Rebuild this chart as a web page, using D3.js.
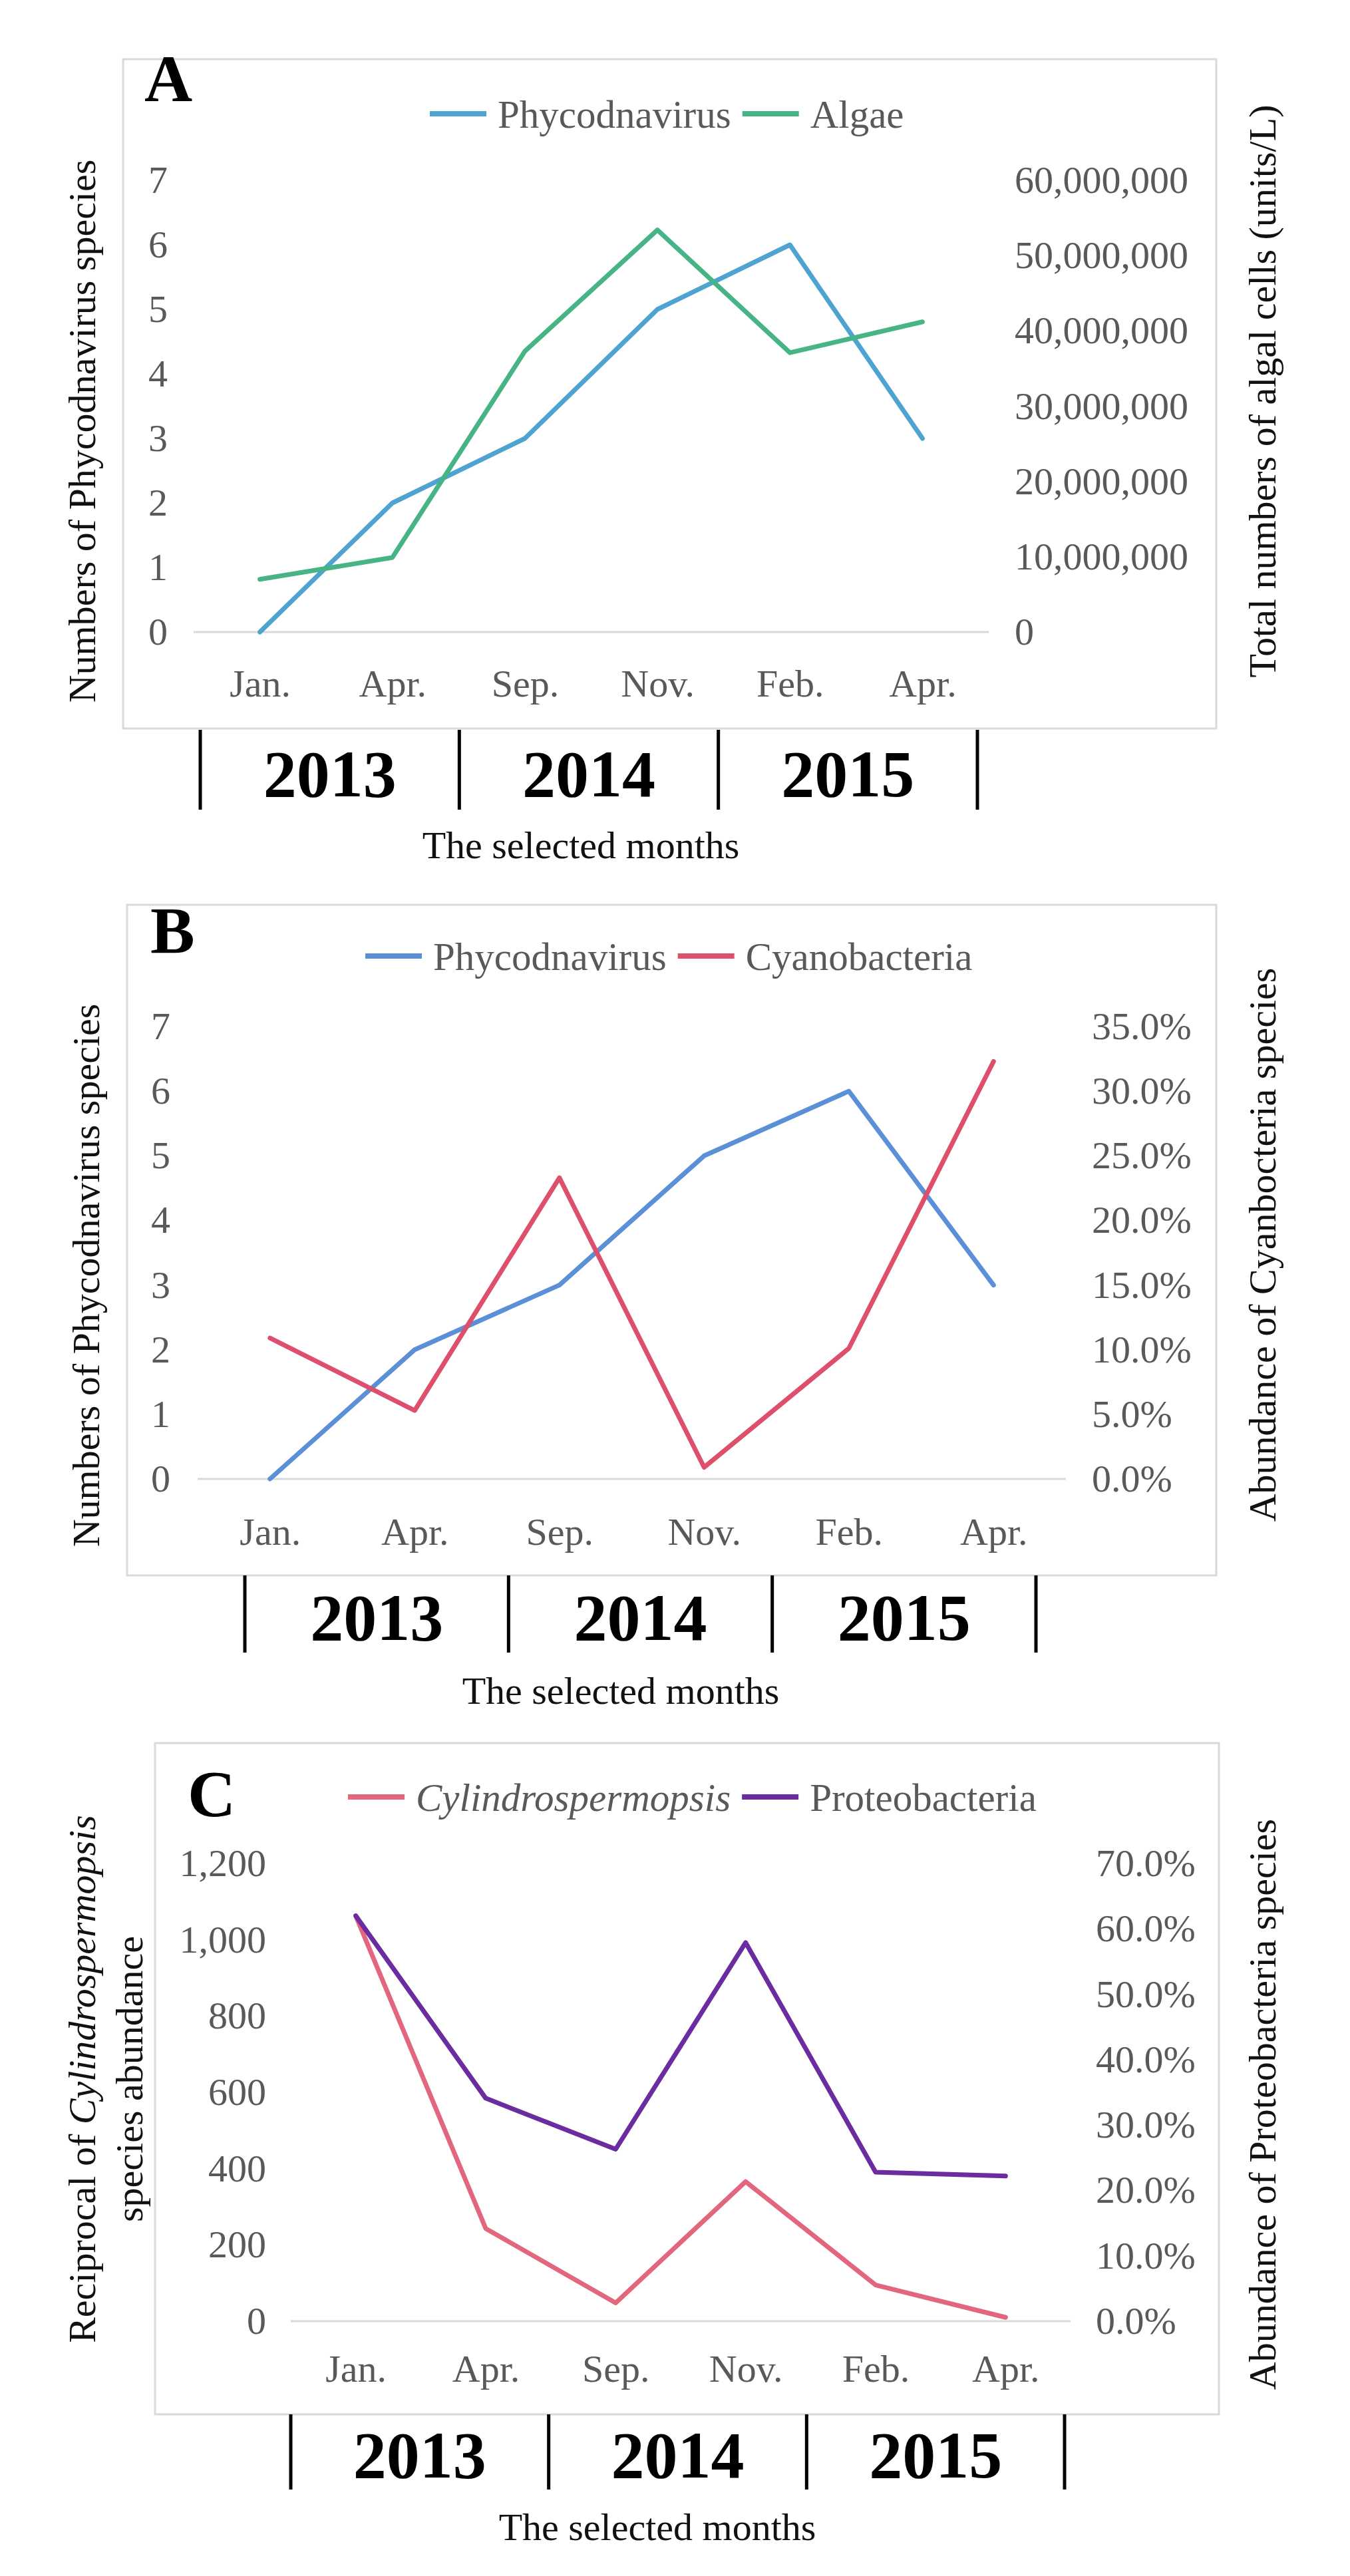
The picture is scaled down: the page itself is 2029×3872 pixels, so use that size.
<!DOCTYPE html>
<html>
<head>
<meta charset="utf-8">
<script src="https://cdn.jsdelivr.net/npm/d3@7"></script>
<style>
  html, body { margin: 0; padding: 0; background: #fff; }
</style>
</head>
<body>
<div id="chart"></div>
<script>
// data
const months = ['Jan.', 'Apr.', 'Sep.', 'Nov.', 'Feb.', 'Apr.'];
const years = ['2013', '2014', '2015'];

const phycodnavirus = [0, 2, 3, 5, 6, 3];
const algae = [7.0e6, 9.9e6, 37.3e6, 53.4e6, 37.1e6, 41.2e6];
const cyanobacteria = [0.109, 0.053, 0.233, 0.009, 0.101, 0.323];
const cylindro = [1063, 243, 48, 366, 95, 10];
const proteobacteria = [0.620, 0.341, 0.263, 0.579, 0.228, 0.222];

const phycoTicks = [0, 1, 2, 3, 4, 5, 6, 7];
const algaeTicks = [0, 10e6, 20e6, 30e6, 40e6, 50e6, 60e6];
const cyanoTicks = [0, 0.05, 0.10, 0.15, 0.20, 0.25, 0.30, 0.35];
const cylindroTicks = [0, 200, 400, 600, 800, 1000, 1200];
const proteoTicks = [0, 0.1, 0.2, 0.3, 0.4, 0.5, 0.6, 0.7];

const FONT = '"Liberation Serif", "Times New Roman", serif';
const W = 2029, H = 3872;

const svg = d3.select('#chart').append('svg')
  .attr('width', W)
  .attr('height', H)
  .style('font-family', FONT);

const panels = [
  {
    letter: 'A', letterX: 217, letterY: 152,
    box: [185, 89, 1828, 1095],
    plotX: [291, 1486], y0: 950, yTop: 271,
    left: { domain: [0, 7], ticks: phycoTicks, fmt: d3.format('d'), x: 252 },
    right: { domain: [0, 60e6], ticks: algaeTicks, fmt: d3.format(','), x: 1525 },
    catY: 1027,
    legendX: 646, legendY: 171,
    series: [
      { name: 'Phycodnavirus', values: phycodnavirus, axis: 'left', color: '#4ea3d0' },
      { name: 'Algae', values: algae, axis: 'right', color: '#47b485' }
    ],
    leftTitle: [['Numbers of Phycodnavirus species']], leftTitleX: [123], leftTitleY: 648,
    rightTitle: 'Total numbers of algal cells (units/L)', rightTitleX: 1897, rightTitleY: 588,
    yearSpan: [301, 1469], yearTop: 1097, yearBottom: 1217, yearY: 1197,
    monthsX: 873, monthsY: 1290
  },
  {
    letter: 'B', letterX: 226, letterY: 1432,
    box: [191, 1360, 1828, 2368],
    plotX: [297, 1602], y0: 2223, yTop: 1543,
    left: { domain: [0, 7], ticks: phycoTicks, fmt: d3.format('d'), x: 256 },
    right: { domain: [0, 0.35], ticks: cyanoTicks, fmt: d3.format('.1%'), x: 1641 },
    catY: 2302,
    legendX: 549, legendY: 1437,
    series: [
      { name: 'Phycodnavirus', values: phycodnavirus, axis: 'left', color: '#5b8fd6' },
      { name: 'Cyanobacteria', values: cyanobacteria, axis: 'right', color: '#de4f6c' }
    ],
    leftTitle: [['Numbers of Phycodnavirus species']], leftTitleX: [129], leftTitleY: 1917,
    rightTitle: 'Abundance of Cyanbocteria species', rightTitleX: 1897, rightTitleY: 1871,
    yearSpan: [368, 1557], yearTop: 2368, yearBottom: 2484, yearY: 2465,
    monthsX: 933, monthsY: 2561
  },
  {
    letter: 'C', letterX: 282, letterY: 2730,
    box: [233, 2620, 1832, 3629],
    plotX: [437, 1609], y0: 3489, yTop: 2801,
    left: { domain: [0, 1200], ticks: cylindroTicks, fmt: d3.format(','), x: 400 },
    right: { domain: [0, 0.70], ticks: proteoTicks, fmt: d3.format('.1%'), x: 1647 },
    catY: 3560,
    legendX: 523, legendY: 2701,
    series: [
      { name: 'Cylindrospermopsis', italic: true, values: cylindro, axis: 'left', color: '#e2677e' },
      { name: 'Proteobacteria', values: proteobacteria, axis: 'right', color: '#6a2c9e' }
    ],
    leftTitle: [['Reciprocal of ', ['Cylindrospermopsis']], ['species abundance']],
    leftTitleX: [123, 194], leftTitleY: 3125,
    rightTitle: 'Abundance of Proteobacteria species', rightTitleX: 1897, rightTitleY: 3163,
    yearSpan: [437, 1600], yearTop: 3629, yearBottom: 3742, yearY: 3724,
    monthsX: 988, monthsY: 3818
  }
];

function drawPanel(p) {
  const g = svg.append('g');

  // chart frame
  g.append('rect')
    .attr('x', p.box[0]).attr('y', p.box[1])
    .attr('width', p.box[2] - p.box[0]).attr('height', p.box[3] - p.box[1])
    .attr('fill', '#fff').attr('stroke', '#d9d9d9').attr('stroke-width', 3);

  const x = d3.scalePoint()
    .domain(d3.range(months.length))
    .range(p.plotX)
    .padding(0.5);
  const yLeft = d3.scaleLinear().domain(p.left.domain).range([p.y0, p.yTop]);
  const yRight = d3.scaleLinear().domain(p.right.domain).range([p.y0, p.yTop]);

  // zero line
  g.append('line')
    .attr('x1', p.plotX[0]).attr('x2', p.plotX[1])
    .attr('y1', yLeft(0)).attr('y2', yLeft(0))
    .attr('stroke', '#d9d9d9').attr('stroke-width', 3);

  // left axis labels
  const ax1 = g.append('g')
    .attr('transform', `translate(${p.left.x},0)`)
    .call(d3.axisLeft(yLeft).tickValues(p.left.ticks).tickFormat(p.left.fmt).tickSize(0).tickPadding(0));
  // right axis labels
  const ax2 = g.append('g')
    .attr('transform', `translate(${p.right.x},0)`)
    .call(d3.axisRight(yRight).tickValues(p.right.ticks).tickFormat(p.right.fmt).tickSize(0).tickPadding(0));
  // month labels
  const ax3 = g.append('g')
    .attr('transform', `translate(0,${p.catY})`)
    .call(d3.axisBottom(x).tickFormat(i => months[i]).tickSize(0).tickPadding(0));

  [ax1, ax2, ax3].forEach(a => {
    a.select('.domain').remove();
    a.attr('font-family', FONT).attr('font-size', 58).attr('color', '#595959');
  });
  ax3.selectAll('text').attr('y', 0).attr('dy', '0.35em');

  // series lines
  p.series.forEach(s => {
    const y = s.axis === 'left' ? yLeft : yRight;
    const line = d3.line().x((d, i) => x(i)).y(d => y(d));
    g.append('path')
      .datum(s.values)
      .attr('d', line)
      .attr('fill', 'none')
      .attr('stroke', s.color)
      .attr('stroke-width', 7)
      .attr('stroke-linejoin', 'round')
      .attr('stroke-linecap', 'round');
  });

  // legend
  let lx = p.legendX;
  p.series.forEach(s => {
    g.append('line')
      .attr('x1', lx).attr('x2', lx + 85)
      .attr('y1', p.legendY).attr('y2', p.legendY)
      .attr('stroke', s.color).attr('stroke-width', 8);
    lx += 85 + 17;
    const t = g.append('text')
      .attr('x', lx).attr('y', p.legendY).attr('dy', '0.35em')
      .attr('font-size', 59).attr('fill', '#595959')
      .attr('font-style', s.italic ? 'italic' : null)
      .text(s.name);
    lx += t.node().getComputedTextLength() + 17;
  });

  // panel letter
  g.append('text')
    .attr('x', p.letterX).attr('y', p.letterY)
    .attr('font-size', 100).attr('font-weight', 'bold').attr('fill', '#000')
    .text(p.letter);

  // left title (one or two lines, parts in [] are italic)
  p.leftTitle.forEach((parts, k) => {
    const t = g.append('text')
      .attr('transform', `translate(${p.leftTitleX[k]},${p.leftTitleY}) rotate(-90)`)
      .attr('text-anchor', 'middle').attr('dy', '0.35em')
      .attr('font-size', 58).attr('fill', '#111');
    parts.forEach(part => {
      if (Array.isArray(part)) t.append('tspan').attr('font-style', 'italic').text(part[0]);
      else t.append('tspan').text(part);
    });
  });

  // right title
  g.append('text')
    .attr('transform', `translate(${p.rightTitleX},${p.rightTitleY}) rotate(-90)`)
    .attr('text-anchor', 'middle').attr('dy', '0.35em')
    .attr('font-size', 58).attr('fill', '#111')
    .text(p.rightTitle);

  // year groups under the chart
  const yb = d3.scaleBand().domain(years).range(p.yearSpan);
  const edges = years.map(v => yb(v)).concat([p.yearSpan[1]]);
  g.selectAll('.ydiv')
    .data(edges)
    .enter()
    .append('line')
    .attr('x1', d => d).attr('x2', d => d)
    .attr('y1', p.yearTop).attr('y2', p.yearBottom)
    .attr('stroke', '#000').attr('stroke-width', 5);
  g.selectAll('.ylab')
    .data(years)
    .enter()
    .append('text')
    .attr('x', d => yb(d) + yb.bandwidth() / 2)
    .attr('y', p.yearY)
    .attr('text-anchor', 'middle')
    .attr('font-size', 100).attr('font-weight', 'bold').attr('fill', '#000')
    .text(d => d);

  g.append('text')
    .attr('x', p.monthsX).attr('y', p.monthsY)
    .attr('text-anchor', 'middle')
    .attr('font-size', 58).attr('fill', '#111')
    .text('The selected months');
}

panels.forEach(drawPanel);
</script>
</body>
</html>
